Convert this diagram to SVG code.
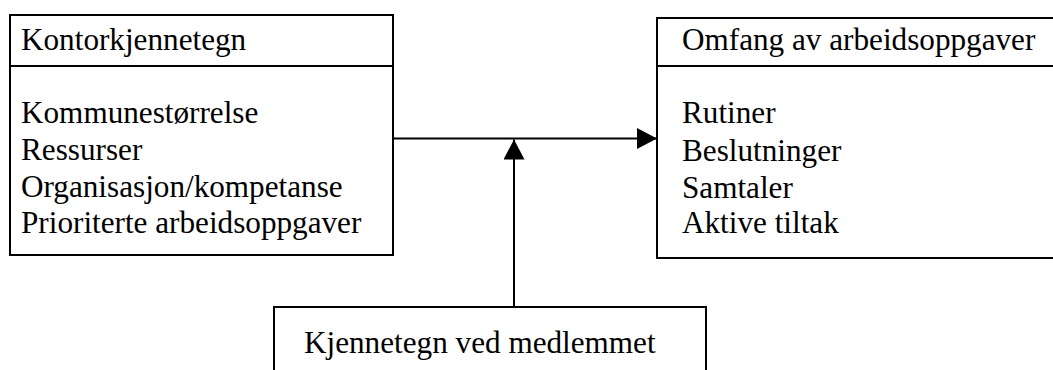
<svg xmlns="http://www.w3.org/2000/svg" width="1053" height="370" viewBox="0 0 1053 370">
  <style>
    .box { fill: #ffffff; stroke: #000000; stroke-width: 2; }
    .div { stroke: #000000; stroke-width: 2; }
    .t { font-family: "Liberation Serif", "DejaVu Serif", "Times New Roman", serif; font-size: 31.2px; fill: #000000; }
    .conn { stroke: #000000; stroke-width: 2; fill: none; }
  </style>
  <defs>
    <marker id="arrow" markerUnits="userSpaceOnUse" markerWidth="20" markerHeight="21" refX="20" refY="10.5" orient="auto">
      <path d="M0,0 L20,10.5 L0,21 Z" fill="#000000"/>
    </marker>
  </defs>
  <rect width="1053" height="370" fill="#ffffff"/>

  <g id="kontorkjennetegn">
    <rect class="box" x="10" y="15" width="383" height="240"/>
    <line class="div" x1="10" y1="66" x2="393" y2="66"/>
    <text class="t" x="21" y="50">Kontorkjennetegn</text>
    <text class="t" x="21" y="123">Kommunestørrelse</text>
    <text class="t" x="21" y="160">Ressurser</text>
    <text class="t" x="21" y="197">Organisasjon/kompetanse</text>
    <text class="t" x="21" y="233">Prioriterte arbeidsoppgaver</text>
  </g>

  <g id="omfang">
    <rect class="box" x="657" y="18" width="420" height="240"/>
    <line class="div" x1="657" y1="66" x2="1060" y2="66"/>
    <text class="t" x="682" y="50">Omfang av arbeidsoppgaver</text>
    <text class="t" x="682" y="123">Rutiner</text>
    <text class="t" x="682" y="161">Beslutninger</text>
    <text class="t" x="682" y="198">Samtaler</text>
    <text class="t" x="682" y="233">Aktive tiltak</text>
  </g>

  <g id="medlem">
    <rect class="box" x="274" y="307" width="432" height="80"/>
    <text class="t" x="304" y="353">Kjennetegn ved medlemmet</text>
  </g>

  <g id="connectors">
    <line class="conn" x1="393" y1="138.5" x2="657" y2="138.5" marker-end="url(#arrow)"/>
    <line class="conn" x1="514" y1="307" x2="514" y2="139.5" marker-end="url(#arrow)"/>
  </g>
</svg>
